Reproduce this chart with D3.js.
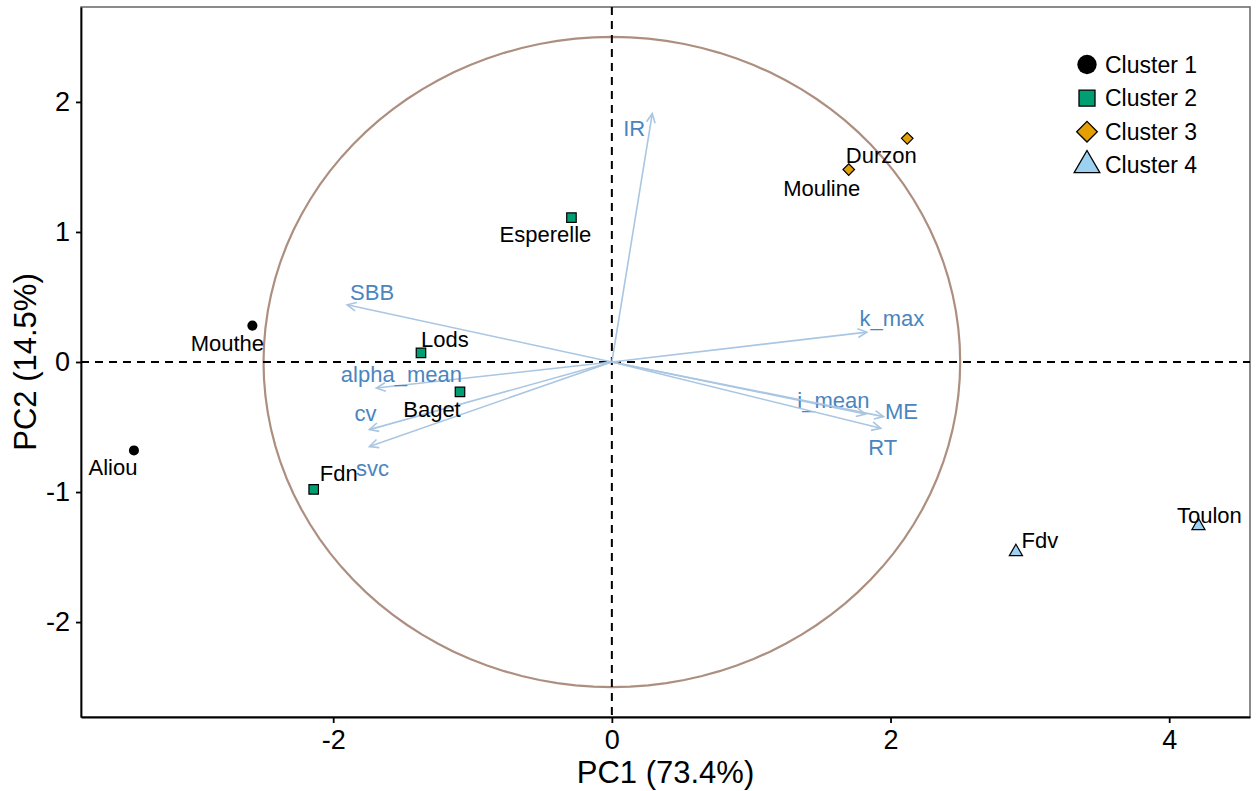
<!DOCTYPE html>
<html>
<head>
<meta charset="utf-8">
<script src="https://cdn.jsdelivr.net/npm/d3@7"></script>
<style>
  body { margin: 0; background: #fff; }
  text { font-family: Arial, "Liberation Sans", sans-serif; }
</style>
</head>
<body>
<script>
// sites (PCA scores)
const sites = ['Aliou', 'Mouthe', 'Fdn', 'Lods', 'Baget', 'Esperelle', 'Mouline', 'Durzon', 'Fdv', 'Toulon'];
const pc1 = [-3.43, -2.58, -2.14, -1.37, -1.09, -0.29, 1.70, 2.12, 2.90, 4.21];
const pc2 = [-0.68, 0.28, -0.98, 0.07, -0.23, 1.11, 1.48, 1.72, -1.46, -1.26];
const cluster = [1, 1, 2, 2, 2, 2, 3, 3, 4, 4];

// variables (loadings, scaled)
const vars = ['IR', 'SBB', 'alpha_mean', 'cv', 'svc', 'k_max', 'i_mean', 'ME', 'RT'];
const varX = [0.29, -1.90, -1.69, -1.74, -1.74, 1.83, 1.82, 1.95, 1.93];
const varY = [1.91, 0.44, -0.20, -0.52, -0.65, 0.23, -0.40, -0.42, -0.51];

const clusters = [1, 2, 3, 4];
const clusterNames = ['Cluster 1', 'Cluster 2', 'Cluster 3', 'Cluster 4'];
const xTicks = [-2, 0, 2, 4];
const yTicks = [-2, -1, 0, 1, 2];
const circleRadius = 2.5;

// layout
const svgWidth = 1256, svgHeight = 791;
const panel = {left: 81, top: 7, right: 1250, bottom: 717};

// label nudges in px (text anchor centre / baseline relative to point or arrow tip)
const siteNudge = {
  Aliou: [-21, 25], Mouthe: [-25, 25], Fdn: [25, -8], Lods: [24, -6], Baget: [-28, 25],
  Esperelle: [-26, 24], Mouline: [-27, 26], Durzon: [-26, 25], Fdv: [24, -4], Toulon: [11, -3]
};
const varNudge = {
  IR: [-18, 22], SBB: [25, -5], alpha_mean: [25, -6], cv: [-4, -9], svc: [3, 29],
  k_max: [25, -6], i_mean: [-32, -6], ME: [18, 2], RT: [2, 27]
};

const svg = d3.select('body').append('svg')
  .attr('width', svgWidth).attr('height', svgHeight);

const xScale = d3.scaleLinear().domain([-3.81, 4.58]).range([panel.left, panel.right]);
const yScale = d3.scaleLinear().domain([2.73, -2.73]).range([panel.top, panel.bottom]);

const fillScale = d3.scaleOrdinal().domain(clusters).range(['#000000', '#009E73', '#E69F00', '#9DD1F1']);
const shapeScale = d3.scaleOrdinal().domain(clusters)
  .range([d3.symbolCircle, d3.symbolSquare, d3.symbolDiamond2, d3.symbolTriangle]);

// panel border
svg.append('rect')
  .attr('x', panel.left).attr('y', panel.top)
  .attr('width', panel.right - panel.left).attr('height', panel.bottom - panel.top)
  .attr('fill', 'none').attr('stroke', '#666').attr('stroke-width', 1.5);

// correlation circle
const circ = d3.range(0, 361, 3).map(a => [circleRadius * Math.cos(a * Math.PI / 180), circleRadius * Math.sin(a * Math.PI / 180)]);
svg.append('path')
  .attr('d', d3.line().x(d => xScale(d[0])).y(d => yScale(d[1]))(circ))
  .attr('fill', 'none').attr('stroke', '#ad8f80').attr('stroke-width', 2.2);

// reference lines
svg.append('line')
  .attr('x1', xScale(0)).attr('x2', xScale(0)).attr('y1', panel.top).attr('y2', panel.bottom)
  .attr('stroke', '#000').attr('stroke-width', 2).attr('stroke-dasharray', '8,6');
svg.append('line')
  .attr('x1', panel.left).attr('x2', panel.right).attr('y1', yScale(0)).attr('y2', yScale(0))
  .attr('stroke', '#000').attr('stroke-width', 2).attr('stroke-dasharray', '8,6');

// arrows
const arrowCol = '#a9c6e3';
const head = 10, headAng = Math.PI / 7;
vars.forEach((v, i) => {
  const x0 = xScale(0), y0 = yScale(0), x1 = xScale(varX[i]), y1 = yScale(varY[i]);
  const ang = Math.atan2(y1 - y0, x1 - x0);
  const g = svg.append('g').attr('stroke', arrowCol).attr('stroke-width', 1.6).attr('fill', 'none');
  g.append('line').attr('x1', x0).attr('y1', y0).attr('x2', x1).attr('y2', y1);
  g.append('path').attr('d',
    'M' + (x1 - head * Math.cos(ang - headAng)) + ',' + (y1 - head * Math.sin(ang - headAng)) +
    'L' + x1 + ',' + y1 +
    'L' + (x1 - head * Math.cos(ang + headAng)) + ',' + (y1 - head * Math.sin(ang + headAng)));
  svg.append('text')
    .attr('x', x1 + varNudge[v][0]).attr('y', y1 + varNudge[v][1])
    .attr('text-anchor', 'middle').attr('font-size', 22).attr('fill', '#4a85bf')
    .text(v);
});

// site points
const symSize = {1: 80, 2: 90, 3: 85, 4: 75};
sites.forEach((s, i) => {
  const c = cluster[i];
  svg.append('path')
    .attr('transform', 'translate(' + xScale(pc1[i]) + ',' + yScale(pc2[i]) + ')')
    .attr('d', d3.symbol().type(shapeScale(c)).size(symSize[c])())
    .attr('fill', fillScale(c)).attr('stroke', '#000').attr('stroke-width', c === 1 ? 0 : 1.2);
  svg.append('text')
    .attr('x', xScale(pc1[i]) + siteNudge[s][0]).attr('y', yScale(pc2[i]) + siteNudge[s][1])
    .attr('text-anchor', 'middle').attr('font-size', 22).attr('fill', '#000')
    .text(s);
});

// axes
const xAxis = svg.append('g')
  .attr('transform', 'translate(0,' + panel.bottom + ')')
  .call(d3.axisBottom(xScale).tickValues(xTicks).tickSize(6).tickSizeOuter(0).tickPadding(7).tickFormat(d3.format('d')));
const yAxis = svg.append('g')
  .attr('transform', 'translate(' + panel.left + ',0)')
  .call(d3.axisLeft(yScale).tickValues(yTicks).tickSize(5).tickSizeOuter(0).tickPadding(6).tickFormat(d3.format('d')));
[xAxis, yAxis].forEach(a => {
  a.select('.domain').attr('stroke', '#000').attr('stroke-width', 1.8);
  a.selectAll('.tick line').attr('stroke', '#000').attr('stroke-width', 1.8);
  a.selectAll('.tick text').attr('font-size', 27).attr('fill', '#000')
    .style('font-family', 'Arial, "Liberation Sans", sans-serif');
});
xAxis.selectAll('.tick text').text(d => d < 0 ? '-' + Math.abs(d) : d);
yAxis.selectAll('.tick text').text(d => d < 0 ? '-' + Math.abs(d) : d);

// axis titles
svg.append('text')
  .attr('x', (panel.left + panel.right) / 2).attr('y', 783)
  .attr('text-anchor', 'middle').attr('font-size', 31).attr('fill', '#000')
  .text('PC1 (73.4%)');
svg.append('text')
  .attr('transform', 'translate(36,' + (panel.top + panel.bottom) / 2 + ') rotate(-90)')
  .attr('text-anchor', 'middle').attr('font-size', 31).attr('fill', '#000')
  .text('PC2 (14.5%)');

// legend
const legSize = {1: 295, 2: 256, 3: 272, 4: 286};
const legend = svg.selectAll('g.legend')
  .data(clusters).enter().append('g')
  .attr('class', 'legend')
  .attr('transform', (d, i) => 'translate(1087,' + (64.5 + i * 33.6) + ')');
legend.append('path')
  .attr('d', d => d3.symbol().type(shapeScale(d)).size(legSize[d])())
  .attr('fill', d => fillScale(d)).attr('stroke', '#000')
  .attr('stroke-width', d => d === 1 ? 0 : 1.3);
legend.append('text')
  .attr('x', 18).attr('y', 8)
  .attr('font-size', 23).attr('fill', '#000')
  .text((d, i) => clusterNames[i]);
</script>
</body>
</html>
